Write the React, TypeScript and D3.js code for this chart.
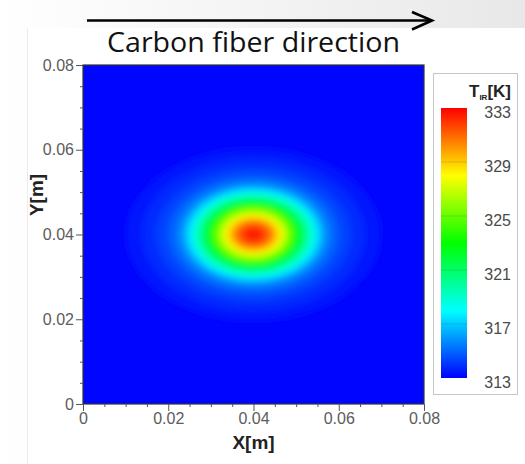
import React from 'react';
import * as d3 from 'd3';

// Data

const xTicks = [0, 0.02, 0.04, 0.06, 0.08];
const yTicks = [0, 0.02, 0.04, 0.06, 0.08];
const barTicks = [313, 317, 321, 325, 329, 333];

// centre of the hot spot [m]
const spotX = 0.04;
const spotY = 0.04;

// contour levels [K] and the semi-axes of each closed contour [m]
const levels = [313.3, 313.6, 314, 314.5, 315, 315.5, 316, 316.5, 317, 318, 319, 320, 321, 322, 323, 324, 325, 326, 327, 328, 329, 330, 331, 332];
const radiusX = [0.0300, 0.0262, 0.0230, 0.0205, 0.0188, 0.0175, 0.0166, 0.0160, 0.0154, 0.0144, 0.0135, 0.0126, 0.0117, 0.0109, 0.0101, 0.0094, 0.0087, 0.0079, 0.0072, 0.0064, 0.0056, 0.0047, 0.0037, 0.0022];
const radiusY = [0.0205, 0.0180, 0.0158, 0.0142, 0.0130, 0.0121, 0.0115, 0.0110, 0.0106, 0.0100, 0.0094, 0.0088, 0.0082, 0.0076, 0.0070, 0.0066, 0.0061, 0.0055, 0.0050, 0.0045, 0.0039, 0.0033, 0.0026, 0.0016];

const colorStops = [313, 318, 323, 328, 333];
const colorRange = ['#0000ff', '#00ffff', '#00ff00', '#ffff00', '#ff0000'];

function HeatMap() {
    const ref = React.useRef<SVGSVGElement>(null);

    React.useEffect(() => {
        const svg = d3.select(ref.current);
        svg.selectAll('*').remove();

        const W = 525, H = 464;
        const plot = { left: 83, right: 424, top: 65, bottom: 404 };

        const x = d3.scaleLinear().domain([0, 0.08]).range([plot.left, plot.right]);
        const y = d3.scaleLinear().domain([0, 0.08]).range([plot.bottom, plot.top]);
        const color = d3.scaleLinear<string>().domain(colorStops).range(colorRange).clamp(true);

        const defs = svg.append('defs');

        const bg = defs.append('linearGradient').attr('id', 'bg').attr('x1', 0).attr('x2', 1).attr('y1', 0).attr('y2', 0);
        bg.append('stop').attr('offset', 0).attr('stop-color', '#ffffff');
        bg.append('stop').attr('offset', 1).attr('stop-color', '#e8e8e8');

        defs.append('clipPath').attr('id', 'plotClip')
            .append('rect')
            .attr('x', plot.left).attr('y', plot.top)
            .attr('width', plot.right - plot.left).attr('height', plot.bottom - plot.top);

        defs.append('filter').attr('id', 'soft')
            .attr('x', '-20%').attr('y', '-20%').attr('width', '140%').attr('height', '140%')
            .append('feGaussianBlur').attr('stdDeviation', 3);

        // background
        svg.append('rect').attr('width', W).attr('height', H).attr('fill', 'url(#bg)');
        svg.append('rect').attr('x', 27).attr('y', 28).attr('width', W - 27).attr('height', H - 28).attr('fill', '#ffffff');
        svg.append('line').attr('x1', 27.5).attr('x2', 27.5).attr('y1', 28).attr('y2', H)
            .attr('stroke', '#ececec').attr('stroke-width', 1);

        // title + arrow
        svg.append('line')
            .attr('x1', 87).attr('x2', 431).attr('y1', 20.5).attr('y2', 20.5)
            .attr('stroke', '#000').attr('stroke-width', 2.6);
        svg.append('path')
            .attr('d', 'M412,12 L432,20.5 L412,29.5')
            .attr('fill', 'none').attr('stroke', '#000').attr('stroke-width', 2.6);
        svg.append('text')
            .attr('x', 107).attr('y', 52)
            .attr('font-family', '"Open Sans", sans-serif')
            .attr('font-size', 27)
            .attr('textLength', 293).attr('lengthAdjust', 'spacingAndGlyphs')
            .attr('fill', '#111')
            .text('Carbon fiber direction');

        // flood
        const gField = svg.append('g').attr('clip-path', 'url(#plotClip)');
        gField.append('rect')
            .attr('x', plot.left).attr('y', plot.top)
            .attr('width', plot.right - plot.left).attr('height', plot.bottom - plot.top)
            .attr('fill', color(313.1));

        const contours = levels.map((lv, i) => ({
            level: lv,
            next: i < levels.length - 1 ? levels[i + 1] : 333,
            rx: radiusX[i],
            ry: radiusY[i],
        }));

        gField.append('g').attr('filter', 'url(#soft)')
            .selectAll('ellipse')
            .data(contours)
            .join('ellipse')
            .attr('cx', x(spotX))
            .attr('cy', y(spotY))
            .attr('rx', (d) => x(d.rx) - x(0))
            .attr('ry', (d) => y(0) - y(d.ry))
            .attr('fill', (d) => color((d.level + d.next) / 2));

        svg.append('rect')
            .attr('x', plot.left).attr('y', plot.top)
            .attr('width', plot.right - plot.left).attr('height', plot.bottom - plot.top)
            .attr('fill', 'none').attr('stroke', '#333').attr('stroke-width', 1.2);

        // axes
        const fmt = (d: number) => (d === 0 ? '0' : d3.format('.2f')(d));
        const minor = d3.range(0, 0.0801, 0.005).filter((v) => Math.abs((v / 0.02) - Math.round(v / 0.02)) > 0.01);

        const styleAxis = (g: d3.Selection<SVGGElement, unknown, null, undefined>) => {
            g.select('.domain').remove();
            g.selectAll('line').attr('stroke', '#555');
            g.selectAll('text')
                .attr('font-family', '"Liberation Sans", Arial, sans-serif')
                .attr('font-size', 16)
                .attr('fill', '#5c5c5c');
        };

        svg.append('g').attr('transform', `translate(${plot.left},0)`)
            .call(d3.axisLeft(y).tickValues(yTicks).tickFormat(fmt as any).tickSize(7).tickPadding(2))
            .call(styleAxis);
        svg.append('g').attr('transform', `translate(${plot.left},0)`)
            .call(d3.axisLeft(y).tickValues(minor).tickFormat(() => '').tickSize(3))
            .call(styleAxis);
        svg.append('g').attr('transform', `translate(0,${plot.bottom})`)
            .call(d3.axisBottom(x).tickValues(xTicks).tickFormat(fmt as any).tickSize(7).tickPadding(2))
            .call(styleAxis);
        svg.append('g').attr('transform', `translate(0,${plot.bottom})`)
            .call(d3.axisBottom(x).tickValues(minor).tickFormat(() => '').tickSize(3))
            .call(styleAxis);

        svg.append('text')
            .attr('x', (plot.left + plot.right) / 2).attr('y', 449)
            .attr('text-anchor', 'middle')
            .attr('font-family', '"Liberation Sans", Arial, sans-serif')
            .attr('font-weight', 'bold').attr('font-size', 19)
            .attr('fill', '#222')
            .text('X[m]');
        svg.append('text')
            .attr('transform', 'translate(43,195) rotate(-90)')
            .attr('text-anchor', 'middle')
            .attr('font-family', '"Liberation Sans", Arial, sans-serif')
            .attr('font-weight', 'bold').attr('font-size', 19)
            .attr('fill', '#222')
            .text('Y[m]');

        // colour bar
        const cb = d3.scaleLinear().domain([313, 333]).range([378, 108]);
        const grad = defs.append('linearGradient').attr('id', 'cbGrad')
            .attr('x1', 0).attr('x2', 0).attr('y1', 1).attr('y2', 0);
        grad.selectAll('stop').data(colorStops).join('stop')
            .attr('offset', (d) => (d - 313) / 20)
            .attr('stop-color', (d) => color(d));

        svg.append('rect')
            .attr('x', 433.5).attr('y', 73.5).attr('width', 84).attr('height', 321)
            .attr('fill', '#fff').attr('stroke', '#c6c6c6').attr('stroke-width', 1);
        svg.append('rect')
            .attr('x', 441).attr('y', cb(333)).attr('width', 26).attr('height', cb(313) - cb(333))
            .attr('fill', 'url(#cbGrad)');
        svg.append('g').selectAll('line')
            .data(barTicks.slice(1, -1))
            .join('line')
            .attr('x1', 441).attr('x2', 467)
            .attr('y1', (d) => cb(d)).attr('y2', (d) => cb(d))
            .attr('stroke', '#000').attr('stroke-opacity', 0.12);
        svg.append('g').selectAll('text')
            .data(barTicks)
            .join('text')
            .attr('x', 511)
            .attr('y', (d) => cb(d) + 4)
            .attr('dy', '0.35em')
            .attr('text-anchor', 'end')
            .attr('font-family', '"Liberation Sans", Arial, sans-serif')
            .attr('font-size', 16)
            .attr('fill', '#4a4a4a')
            .text((d) => d);

        const title = svg.append('text')
            .attr('x', 511).attr('y', 97)
            .attr('text-anchor', 'end')
            .attr('font-family', '"Liberation Sans", Arial, sans-serif')
            .attr('font-weight', 'bold')
            .attr('fill', '#222');
        title.append('tspan').attr('font-size', 17).text('T');
        title.append('tspan').attr('font-size', 8).attr('dy', 3).text('IR');
        title.append('tspan').attr('font-size', 17).attr('dy', -3).text('[K]');
    }, []);

    return (
        <div style={{ position: 'absolute', left: 0, top: 0 }}>
            <svg ref={ref} width={525} height={464} style={{ display: 'block' }} />
        </div>
    );
}

export default function App() {
    return <HeatMap />;
}
